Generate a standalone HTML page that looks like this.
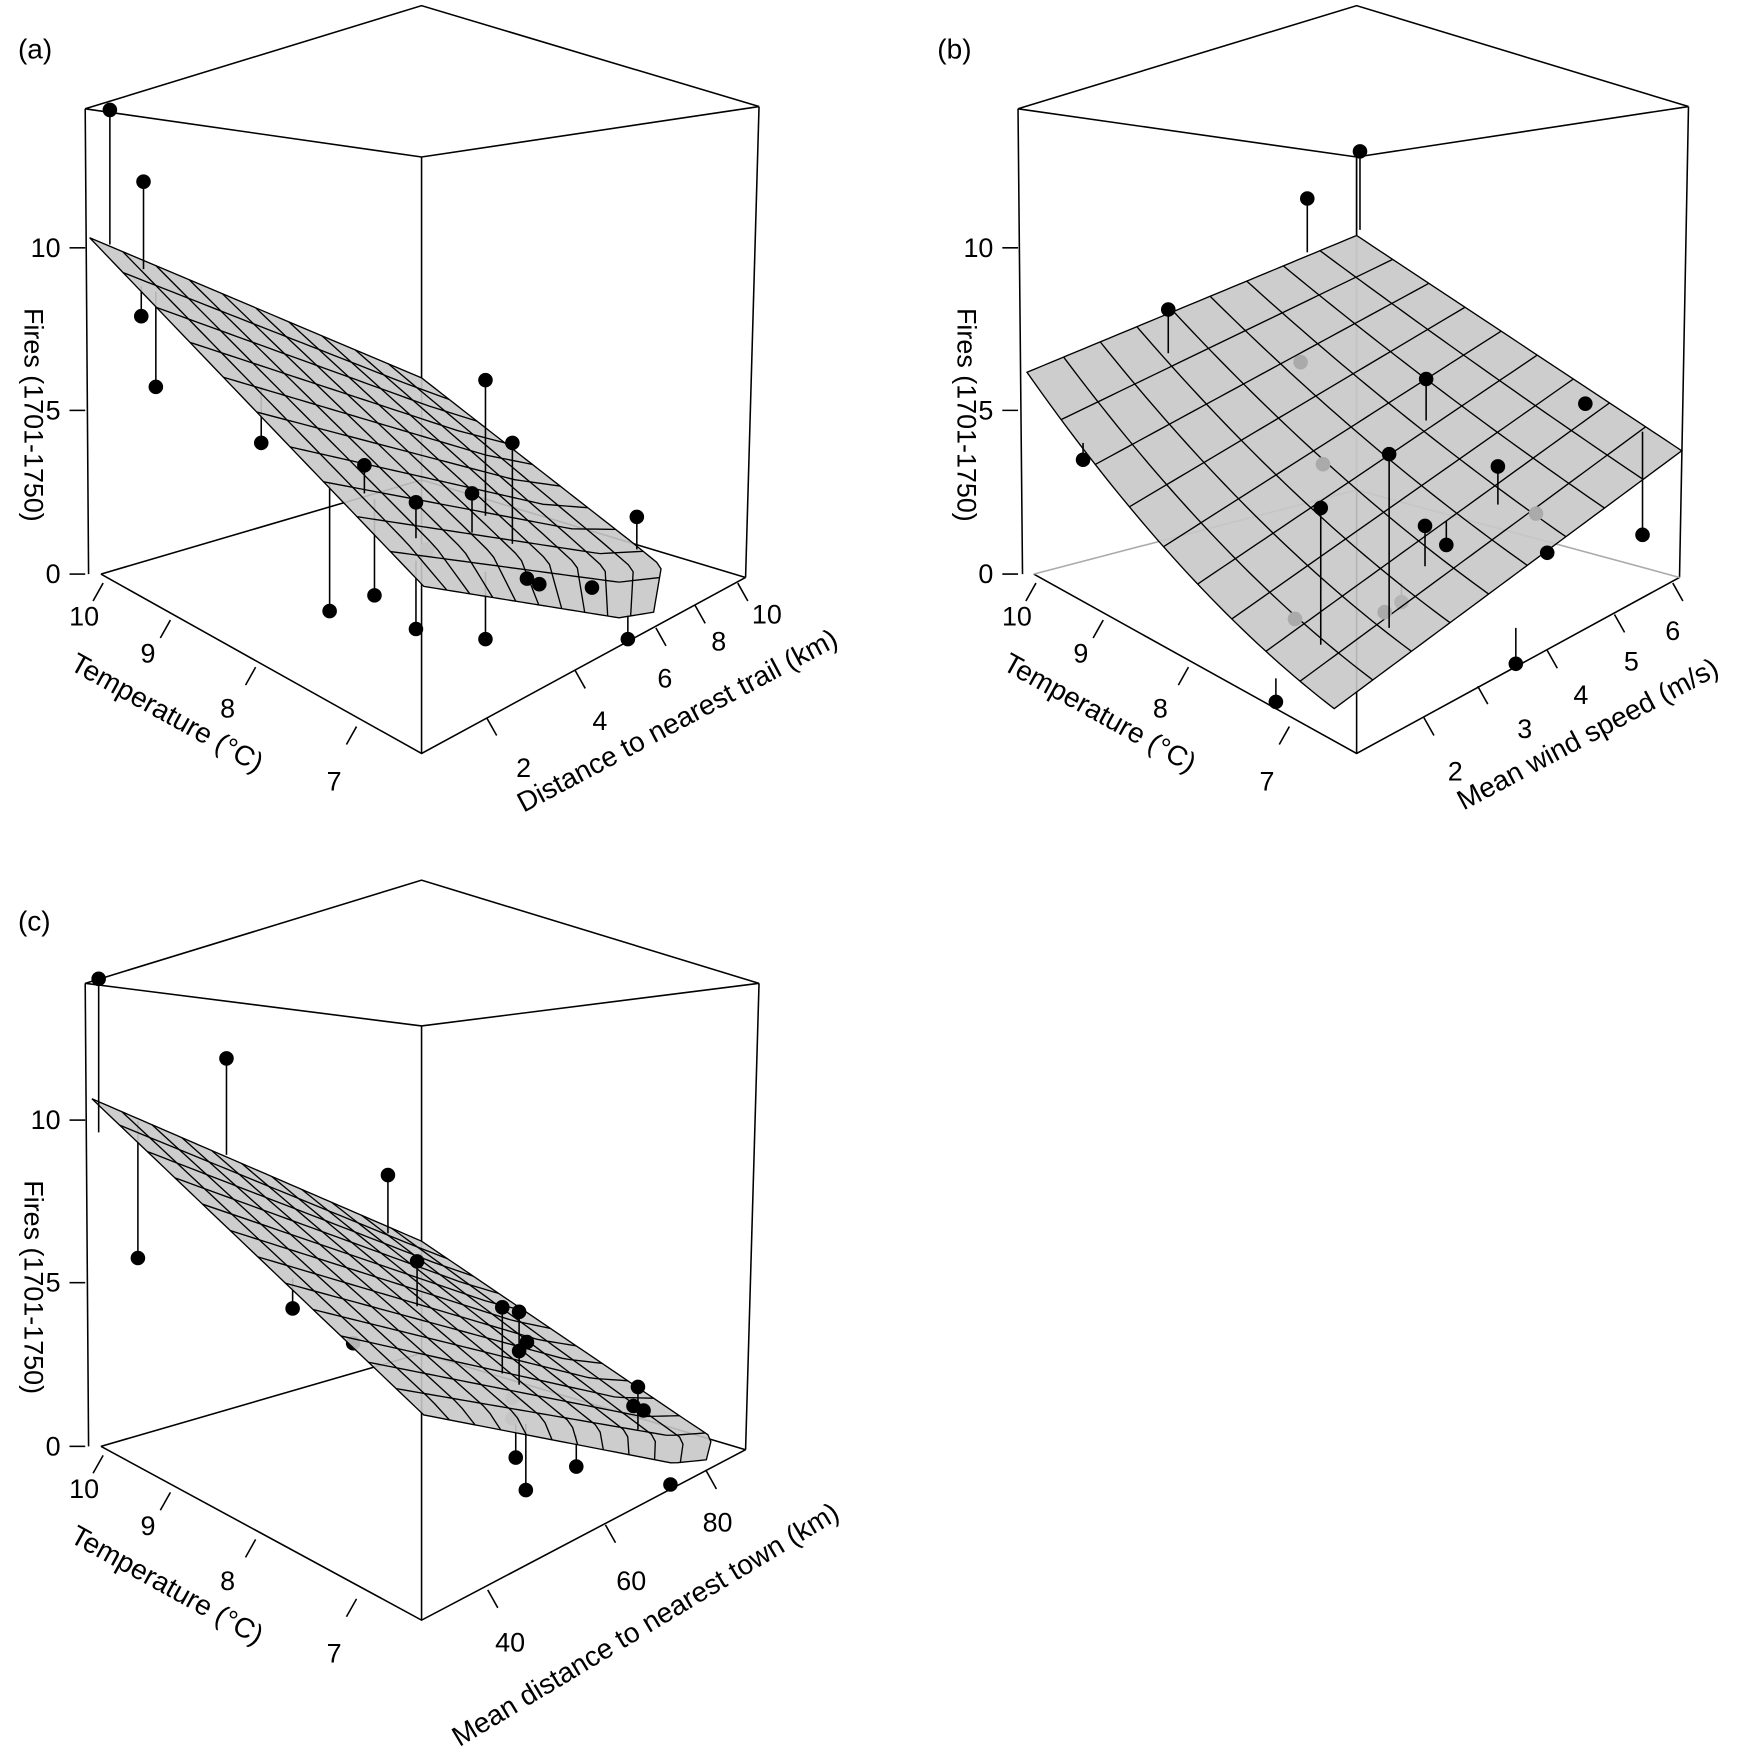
<!DOCTYPE html>
<html><head><meta charset="utf-8"><style>
html,body{margin:0;padding:0;background:#fff}
svg{display:block}
text{font-family:"Liberation Sans",Arial,sans-serif;fill:#000}
</style></head><body>
<svg id="s" width="1758" height="1748" viewBox="0 0 1568 1559" xmlns="http://www.w3.org/2000/svg">
<g stroke="#000" stroke-width="1.4" fill="none">
<polyline points="76,97 376,5 677,95"/>
<polyline points="76,97 376,140 677,95"/>
<line x1="76" y1="97" x2="79" y2="512"/><line x1="376" y1="140" x2="376" y2="672"/><line x1="677" y1="95" x2="665" y2="515"/>
<polyline points="90,512 376,672 665,515"/>
<polyline points="90,512 376,428 665,515"/>
<polyline points="908,97 1210,5 1506,95"/>
<polyline points="908,97 1210,140 1506,95"/>
<line x1="908" y1="97" x2="912" y2="512"/><line x1="1210" y1="140" x2="1210" y2="672"/><line x1="1506" y1="95" x2="1498" y2="515"/>
<polyline points="922,512 1210,672 1498,515"/>
<polyline points="922,512 1210,437 1498,515" stroke="#aaa"/>
<line x1="1210" y1="437" x2="1210" y2="140" stroke="#aaa"/>
<polyline points="76,877 376,785 677,877"/>
<polyline points="76,877 376,915 677,877"/>
<line x1="76" y1="877" x2="79" y2="1290"/><line x1="376" y1="915" x2="376" y2="1445"/><line x1="677" y1="877" x2="665" y2="1293"/>
<polyline points="90,1290 376,1445 665,1293"/>
<polyline points="90,1290 376,1207 665,1293"/>
</g>
<g id="dyn"></g>
<g font-size="25">
<text x="16" y="52">(a)</text><text x="836" y="52">(b)</text><text x="16" y="830">(c)</text>
</g>
</svg>
<script>
var NS="http://www.w3.org/2000/svg",g=document.getElementById('dyn');
function el(t,a,txt){var e=document.createElementNS(NS,t);for(var k in a)e.setAttribute(k,a[k]);if(txt!==undefined)e.textContent=txt;g.appendChild(e);return e;}
function line(x1,y1,x2,y2,c,w){el('line',{x1:x1,y1:y1,x2:x2,y2:y2,stroke:c||'#000','stroke-width':w||1.4});}
function txt(x,y,s,size,rot,anchor){var a={x:x,y:y,'font-size':size||23,'text-anchor':anchor||'middle'};if(rot)a.transform='rotate('+rot+' '+x+' '+y+')';el('text',a,s);}
function dot(x,y,grey){el('circle',{cx:x,cy:y,r:6.5,fill:grey?'#aaa':'#000'});}
function stem(x,y,y2,grey){line(x,y,x,y2,grey?'#aaa':'#000',1.4);dot(x,y,grey);}
function samp(pl,t){var L=[0],tot=0;for(var i=1;i<pl.length;i++){tot+=Math.hypot(pl[i][0]-pl[i-1][0],pl[i][1]-pl[i-1][1]);L.push(tot);}
 var d=t*tot;for(var i=1;i<pl.length;i++){if(d<=L[i]+1e-9){var f=(d-L[i-1])/(L[i]-L[i-1]||1);return[pl[i-1][0]+f*(pl[i][0]-pl[i-1][0]),pl[i-1][1]+f*(pl[i][1]-pl[i-1][1])];}}return pl[pl.length-1];}
function coons(ab,dc,ad,bc,n,m,sag){
 var A=ab[0],B=ab[ab.length-1],D=dc[0],C=dc[dc.length-1];
 var P=function(u,v){var p1=samp(ab,u),p2=samp(dc,u),p3=samp(ad,v),p4=samp(bc,v);
  var r=[0,1].map(k=>(1-v)*p1[k]+v*p2[k]+(1-u)*p3[k]+u*p4[k]-((1-u)*(1-v)*A[k]+u*(1-v)*B[k]+u*v*C[k]+(1-u)*v*D[k]));
  if(sag){r[1]+=sag(u,v);}return r;};
 var pts=[],S=40;
 for(var i=0;i<=S;i++)pts.push(P(i/S,0));for(var i=0;i<=S;i++)pts.push(P(1,i/S));for(var i=S;i>=0;i--)pts.push(P(i/S,1));for(var i=S;i>=0;i--)pts.push(P(0,i/S));
 el('polygon',{points:pts.map(p=>p.join(',')).join(' '),fill:'#c8c8c8','fill-opacity':0.9,stroke:'#000','stroke-width':1.2});
 for(var i=1;i<n;i++){var q=[];for(var j=0;j<=S;j++)q.push(P(i/n,j/S));el('polyline',{points:q.map(p=>p.join(',')).join(' '),fill:'none',stroke:'#000','stroke-width':1.2});}
 for(var j=1;j<m;j++){var q=[];for(var i=0;i<=S;i++)q.push(P(i/S,j/m));el('polyline',{points:q.map(p=>p.join(',')).join(' '),fill:'none',stroke:'#000','stroke-width':1.2});}
}
function yaxis(x,y0,lab,ty){[[0,y0],[5,y0-146],[10,y0-291]].forEach(function(a){line(x-14,a[1],x,a[1]);txt(x-22,a[1]+8,String(a[0]),24,0,'end');});
 txt(lab,ty,'Fires (1701-1750)',24,90);}
function temp(dx,dy){var t=[[92,520,75,558,'10'],[152,553,132,591,'9'],[228,595,203,640,'8'],[318,648,298,705,'7']];
 t.forEach(function(a){line(a[0]+dx,a[1]+dy,a[0]+dx-9,a[1]+dy+16);txt(a[2]+dx,a[3]+dy,a[4],24);});
 txt(145+dx,643+dy,'Temperature (°C)',25,29);}
// panel a
yaxis(76,512,22,370);temp(0,0);
[[434,640,467,693,'2'],[513,598,535,651,'4'],[585,560,593,613,'6'],[620,540,641,580,'8'],[658,520,684,556,'10']].forEach(function(a){line(a[0],a[1],a[0]+9,a[1]+16);txt(a[2],a[3],a[4],24);});
txt(608,650,'Distance to nearest trail (km)',25,-28);
stem(294,545,430);stem(334,531,445);stem(371,561,500);stem(433,570,510);stem(560,570,548);stem(126,282,255);stem(139,345,260);stem(233,395,345);
dot(381,490,1);
coons([[80,212],[376,337]],[[378,523],[552,551],[583,546]],[[80,212],[378,523]],[[376,337],[563,483],[590,505],[583,546]],10,10);
stem(98,98,218);stem(128,162,240);stem(325,415,440);stem(371,448,480);stem(421,440,475);stem(433,339,460);stem(457,395,485);stem(568,461,490);
dot(470,516);dot(481,521);dot(528,524);
// panel b
yaxis(908,512,854,370);temp(832,0);
[[1270,640,1298,696,'2'],[1318,612,1360,658,'3'],[1380,580,1410,628,'4'],[1440,548,1455,598,'5'],[1492,520,1492,571,'6']].forEach(function(a){line(a[0],a[1],a[0]+9,a[1]+16);txt(a[2],a[3],a[4],24);});
txt(1420,662,'Mean wind speed (m/s)',25,-28);
stem(1138,626,605);stem(1352,592,560);stem(1250,537,520);
coons([[916,332],[1210,210]],[[1190,632],[1500,402]],[[916,332],[1190,632]],[[1210,210],[1500,402]],9,9,function(u,v){return 45*v*(1-v)*(1-u)*4*0.5;});
[[1160,323],[1180,414],[1155,552],[1235,546],[1370,458]].forEach(function(p){dot(p[0],p[1],1);});
stem(966,410,395);stem(1042,276,315);stem(1166,177,225);stem(1213,135,205);line(1210,140,1210,210);stem(1272,338,375);stem(1239,405,560);stem(1178,453,575);stem(1271,469,505);stem(1290,486,465);stem(1336,416,450);dot(1414,360);dot(1380,493);stem(1465,477,385);
// panel c
yaxis(76,1290,22,1148);temp(0,778);
[[435,1418,455,1473,'40'],[540,1360,563,1418,'60'],[630,1312,640,1366,'80']].forEach(function(a){line(a[0],a[1],a[0]+9,a[1]+16);txt(a[2],a[3],a[4],24);});
txt(580,1456,'Mean distance to nearest town (km)',25,-31);
stem(123,1122,1000);stem(261,1167,1140);stem(460,1300,1265);stem(469,1329,1270);stem(514,1308,1280);dot(598,1324);dot(315,1198);
[[457,1247],[457,1265]].forEach(function(p){dot(p[0],p[1],1);});
coons([[82,980],[376,1107]],[[378,1262],[600,1305],[630,1302]],[[82,980],[378,1262]],[[376,1107],[605,1262],[635,1282],[630,1302]],11,12);
stem(88,873,1010);stem(202,944,1030);stem(346,1048,1100);stem(372,1125,1165);stem(448,1166,1225);stem(463,1170,1235);dot(470,1197);dot(463,1205);stem(569,1237,1275);dot(565,1254);dot(574,1258);
</script>
</body></html>
